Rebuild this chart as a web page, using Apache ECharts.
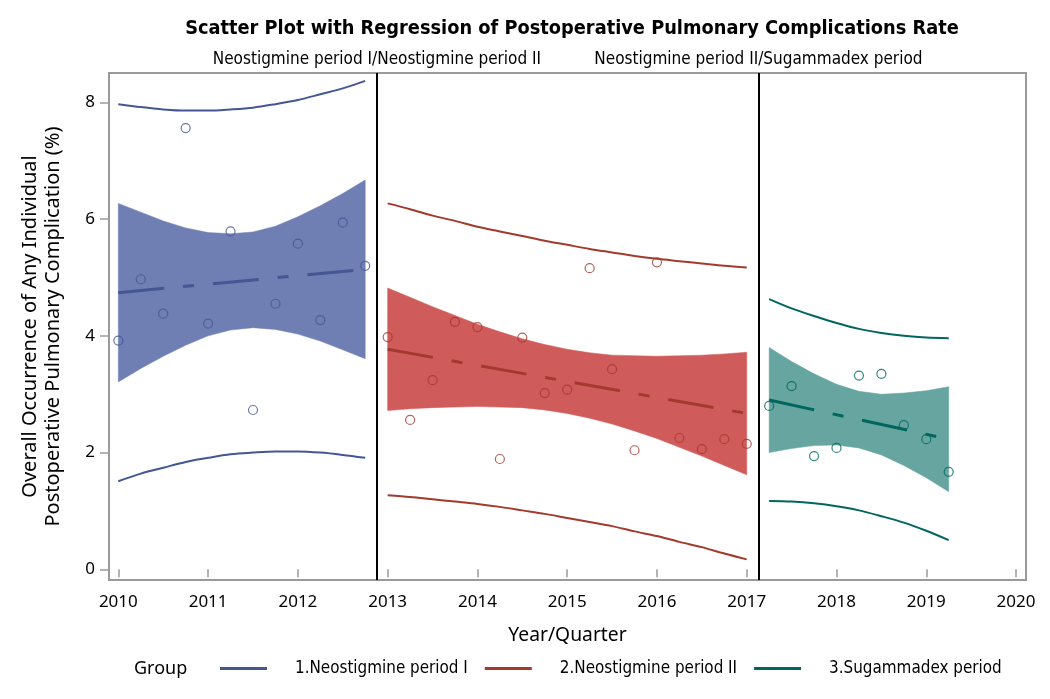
<!DOCTYPE html>
<html><head><meta charset="utf-8">
<script src="https://cdn.jsdelivr.net/npm/echarts@6/dist/echarts.min.js"></script>
<style>html,body{margin:0;padding:0;background:#fff}#c{width:1050px;height:699px}</style>
</head><body><div id="c"></div>
<script>
// ---- data ----
const groupNames = ['1.Neostigmine period I', '2.Neostigmine period II', '3.Sugammadex period'];
const breakNames = ['Neostigmine period I/Neostigmine period II', 'Neostigmine period II/Sugammadex period'];
const breakAt = [2012.875, 2017.125];
const yTicks = [0, 2, 4, 6, 8];
const xTicks = [2010, 2011, 2012, 2013, 2014, 2015, 2016, 2017, 2018, 2019, 2020];

const quarters1 = [2010, 2010.25, 2010.5, 2010.75, 2011, 2011.25, 2011.5, 2011.75, 2012, 2012.25, 2012.5, 2012.75];
const rate1 = [3.92, 4.97, 4.38, 7.56, 4.21, 5.79, 2.73, 4.55, 5.58, 4.27, 5.94, 5.20];
const fit1 = [4.74, 5.14];
const ciLow1 = [3.21, 3.44, 3.65, 3.84, 4.00, 4.10, 4.14, 4.11, 4.03, 3.91, 3.76, 3.61];
const ciUp1 = [6.27, 6.12, 5.97, 5.85, 5.77, 5.75, 5.78, 5.88, 6.04, 6.23, 6.44, 6.67];
const piLow1 = [1.51, 1.64, 1.74, 1.84, 1.91, 1.97, 2.00, 2.02, 2.02, 2.00, 1.96, 1.91];
const piUp1 = [7.97, 7.92, 7.88, 7.86, 7.86, 7.88, 7.91, 7.97, 8.04, 8.14, 8.24, 8.37];

const quarters2 = [2013, 2013.25, 2013.5, 2013.75, 2014, 2014.25, 2014.5, 2014.75, 2015, 2015.25, 2015.5, 2015.75, 2016, 2016.25, 2016.5, 2016.75, 2017];
const rate2 = [3.98, 2.56, 3.24, 4.24, 4.15, 1.89, 3.97, 3.02, 3.08, 5.16, 3.43, 2.04, 5.26, 2.25, 2.06, 2.23, 2.15];
const fit2 = [3.77, 2.67];
const ciLow2 = [2.72, 2.75, 2.77, 2.78, 2.79, 2.78, 2.77, 2.73, 2.67, 2.59, 2.49, 2.37, 2.24, 2.09, 1.94, 1.78, 1.62];
const ciUp2 = [4.82, 4.66, 4.50, 4.35, 4.20, 4.07, 3.95, 3.85, 3.77, 3.71, 3.67, 3.66, 3.65, 3.66, 3.67, 3.69, 3.72];
const piLow2 = [1.27, 1.24, 1.20, 1.16, 1.12, 1.07, 1.01, 0.95, 0.88, 0.81, 0.74, 0.65, 0.57, 0.47, 0.38, 0.27, 0.17];
const piUp2 = [6.27, 6.17, 6.06, 5.97, 5.87, 5.79, 5.71, 5.63, 5.56, 5.49, 5.43, 5.37, 5.32, 5.28, 5.24, 5.20, 5.17];

const quarters3 = [2017.25, 2017.5, 2017.75, 2018, 2018.25, 2018.5, 2018.75, 2019, 2019.25];
const rate3 = [2.80, 3.14, 1.94, 2.08, 3.32, 3.35, 2.47, 2.23, 1.67];
const fit3 = [2.90, 2.23];
const ciLow3 = [2.00, 2.07, 2.12, 2.13, 2.08, 1.96, 1.78, 1.57, 1.33];
const ciUp3 = [3.80, 3.56, 3.35, 3.17, 3.05, 3.00, 3.02, 3.06, 3.13];
const piLow3 = [1.17, 1.16, 1.13, 1.08, 1.01, 0.91, 0.80, 0.66, 0.50];
const piUp3 = [4.63, 4.47, 4.34, 4.22, 4.12, 4.05, 4.00, 3.97, 3.96];

// ---- styles ----
const lineColors = ['#445694', '#A23A2E', '#01665E'];
const bandColors = ['#6F7EB3', '#D05B5B', '#66A5A0'];
const narrow = "'Liberation Sans Narrow','DejaVu Sans Condensed','Arial Narrow',sans-serif";
const normal = "'Noto Sans','Open Sans',sans-serif";

const groups = [
  {x: quarters1, y: rate1, fit: fit1, ciL: ciLow1, ciU: ciUp1, piL: piLow1, piU: piUp1},
  {x: quarters2, y: rate2, fit: fit2, ciL: ciLow2, ciU: ciUp2, piL: piLow2, piU: piUp2},
  {x: quarters3, y: rate3, fit: fit3, ciL: ciLow3, ciU: ciUp3, piL: piLow3, piU: piUp3}
];
const pair = (xs, ys) => xs.map((v, i) => [v, ys[i]]);

const bandSeries = [], lineSeries = [], pointSeries = [];
groups.forEach((g, k) => {
  bandSeries.push({
    type: 'custom', name: 'ci' + k, silent: true, z: 2, clip: true,
    data: g.x.map((x, i) => [x, g.ciL[i], g.ciU[i]]),
    encode: {x: 0, y: [1, 2]},
    renderItem: (params, api) => {
      if (params.dataIndex !== 0) return null;
      const upper = g.x.map((x, i) => api.coord([x, g.ciU[i]]));
      const lower = g.x.map((x, i) => api.coord([x, g.ciL[i]])).reverse();
      return {
        type: 'polygon',
        shape: {points: upper.concat(lower)},
        style: {fill: bandColors[k], stroke: bandColors[k], lineWidth: 0.5}
      };
    }
  });
  ['piL', 'piU'].forEach(key => {
    lineSeries.push({
      type: 'line', name: key + k, data: pair(g.x, g[key]), symbol: 'none', smooth: 0.3,
      lineStyle: {color: lineColors[k], width: 2}, silent: true, z: 3
    });
  });
  lineSeries.push({
    type: 'line', name: groupNames[k],
    data: [[g.x[0], g.fit[0]], [g.x[g.x.length - 1], g.fit[1]]],
    symbol: 'none', itemStyle: {color: lineColors[k]},
    lineStyle: {color: lineColors[k], width: 3, type: [46, 19, 11, 19]}, silent: true, z: 4
  });
  pointSeries.push({
    type: 'scatter', name: 'pts' + k, data: pair(g.x, g.y), symbol: 'circle', symbolSize: 9,
    itemStyle: {color: 'rgba(255,255,255,0)', borderColor: lineColors[k], borderWidth: 1.2},
    silent: true, z: 5
  });
});

pointSeries[0].markLine = {
  symbol: 'none', silent: true, animation: false,
  lineStyle: {color: '#000', width: 2, type: 'solid'},
  label: {show: true, position: 'end', distance: 5, color: '#000', fontFamily: narrow, fontSize: 17},
  data: breakAt.map((b, i) => ({xAxis: b, label: {formatter: breakNames[i]}}))
};

const option = {
  animation: false,
  backgroundColor: '#fff',
  title: {
    text: 'Scatter Plot with Regression of Postoperative Pulmonary Complications Rate',
    left: 567, top: 14, textAlign: 'center',
    textStyle: {fontFamily: narrow, fontWeight: 'bold', fontSize: 19.8, color: '#000'}
  },
  grid: {left: 109, right: 24, top: 73, bottom: 119, show: true, backgroundColor: 'transparent',
         borderColor: '#9a9a9a', borderWidth: 2, containLabel: false},
  xAxis: {
    type: 'value', min: 2009.896, max: 2020.111,
    name: 'Year/Quarter', nameLocation: 'middle', nameGap: 46,
    nameTextStyle: {fontFamily: normal, fontSize: 19.3, color: '#000'},
    axisLine: {show: false},
    axisTick: {show: true, length: 8, customValues: xTicks, lineStyle: {color: '#9a9a9a', width: 1.5}},
    axisLabel: {customValues: xTicks, margin: 14, fontFamily: normal, fontSize: 17, color: '#000',
                formatter: v => String(v)},
    splitLine: {show: false}
  },
  yAxis: {
    type: 'value', min: -0.183, max: 8.504,
    name: 'Overall Occurrence of Any Individual\nPostoperative Pulmonary Complication (%)',
    nameLocation: 'middle', nameGap: 44, nameRotate: 90,
    nameTextStyle: {fontFamily: normal, fontSize: 20, color: '#000', lineHeight: 23},
    axisLine: {show: false},
    axisTick: {show: true, length: 9, customValues: yTicks, lineStyle: {color: '#9a9a9a', width: 1.5}},
    axisLabel: {customValues: yTicks, margin: 14, fontFamily: normal, fontSize: 17, color: '#000',
                formatter: v => String(v)},
    splitLine: {show: false}
  },
  legend: {
    left: 220, top: 660, padding: 0, selectedMode: false,
    itemWidth: 47, itemHeight: 3, itemGap: 17,
    textStyle: {fontFamily: narrow, fontSize: 16.9, color: '#000', padding: [0, 0, 0, 23]},
    data: groupNames.map((n, k) => ({name: n, icon: 'rect', itemStyle: {color: lineColors[k]}}))
  },
  graphic: [{
    type: 'text', left: 134, top: 660,
    style: {text: 'Group', fontFamily: normal, fontSize: 18, fill: '#000'}
  }],
  series: [...bandSeries, ...lineSeries, ...pointSeries]
};

const chart = echarts.init(document.getElementById('c'), null, {renderer: 'canvas'});
chart.setOption(option);
</script>
</body></html>
